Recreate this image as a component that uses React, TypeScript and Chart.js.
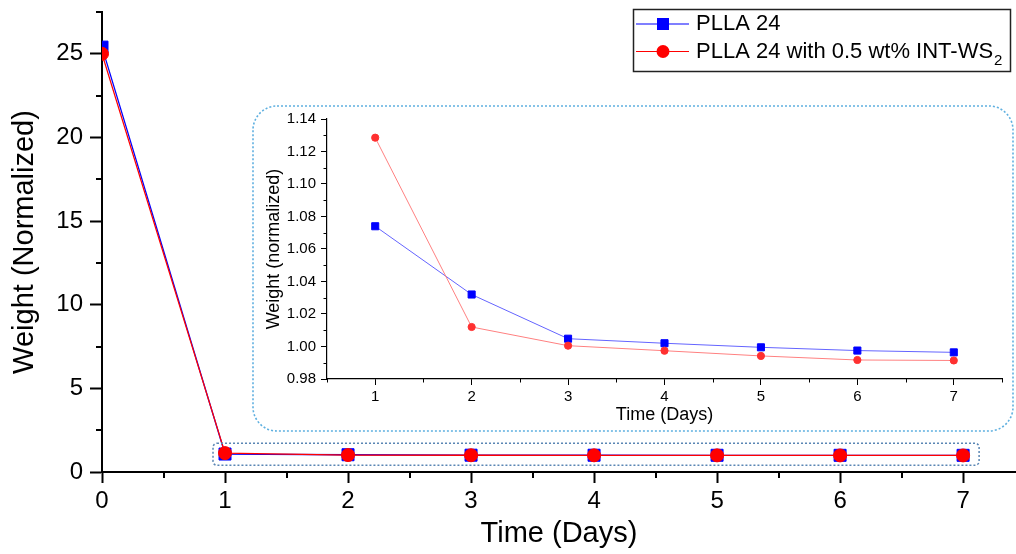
import React, { useEffect, useRef } from 'react';
import { Chart, registerables } from 'chart.js';

Chart.register(...registerables);

// ---------- data ----------
const days = [0, 1, 2, 3, 4, 5, 6, 7];
const plla24 = [25.4, 1.074, 1.032, 1.0048, 1.002, 0.9995, 0.9975, 0.9964];
const pllaWs2 = [25.0, 1.1285, 1.012, 1.0005, 0.9974, 0.9942, 0.9917, 0.9914];
const seriesNames = ['PLLA 24', 'PLLA 24 with 0.5 wt% INT-WS'];
const seriesSubs = ['', '2'];

const mainXTicks = [0, 1, 2, 3, 4, 5, 6, 7];
const mainXMinor = [0.5, 1.5, 2.5, 3.5, 4.5, 5.5, 6.5];
const mainYTicks = [0, 5, 10, 15, 20, 25];
const mainYMinor = [2.5, 7.5, 12.5, 17.5, 22.5, 27.5];

const insetXTicks = [1, 2, 3, 4, 5, 6, 7];
const insetXMinor = [0.5, 1.5, 2.5, 3.5, 4.5, 5.5, 6.5, 7.5];
const insetYTicks = [0.98, 1.0, 1.02, 1.04, 1.06, 1.08, 1.1, 1.12, 1.14];
const insetYMinor = [0.99, 1.01, 1.03, 1.05, 1.07, 1.09, 1.11, 1.13];

const FONT = "'Liberation Sans', Arial, sans-serif";
const BLUE = '#0000ff';
const RED = '#ff0000';

function minorTickPlugin(id: string, xMinor: number[], yMinor: number[], len: number, width: number) {
  return {
    id,
    afterDraw(chart: any) {
      const { ctx, chartArea, scales } = chart;
      const xs = scales.x;
      const ys = scales.y;
      ctx.save();
      ctx.strokeStyle = '#000';
      ctx.lineWidth = width;
      ctx.beginPath();
      xMinor.forEach((v) => {
        const px = Math.round(xs.getPixelForValue(v)) + 0.5 * (width % 2);
        if (px < chartArea.left - 1 || px > chartArea.right + 1) return;
        ctx.moveTo(px, chartArea.bottom);
        ctx.lineTo(px, chartArea.bottom + len);
      });
      yMinor.forEach((v) => {
        const py = Math.round(ys.getPixelForValue(v)) + 0.5 * (width % 2);
        if (py < chartArea.top - 1 || py > chartArea.bottom + 1) return;
        ctx.moveTo(chartArea.left - len, py);
        ctx.lineTo(chartArea.left, py);
      });
      ctx.stroke();
      ctx.restore();
    },
  };
}

function roundRectPath(ctx: CanvasRenderingContext2D, x: number, y: number, w: number, h: number, r: number) {
  ctx.beginPath();
  ctx.moveTo(x + r, y);
  ctx.lineTo(x + w - r, y);
  ctx.arcTo(x + w, y, x + w, y + r, r);
  ctx.lineTo(x + w, y + h - r);
  ctx.arcTo(x + w, y + h, x + w - r, y + h, r);
  ctx.lineTo(x + r, y + h);
  ctx.arcTo(x, y + h, x, y + h - r, r);
  ctx.lineTo(x, y + r);
  ctx.arcTo(x, y, x + r, y, r);
  ctx.closePath();
}

const mainDecor = {
  id: 'mainDecor',
  afterDraw(chart: any) {
    const { ctx, scales } = chart;
    const xs = scales.x;
    const ys = scales.y;
    ctx.save();
    // dotted box around the zoomed region
    const bx1 = xs.getPixelForValue(insetXTicks[0]) - 12;
    const bx2 = xs.getPixelForValue(insetXTicks[insetXTicks.length - 1]) + 16;
    const by1 = ys.getPixelForValue(1) - 12;
    const by2 = ys.getPixelForValue(1) + 10;
    ctx.setLineDash([2, 2]);
    ctx.strokeStyle = '#5a86b4';
    ctx.lineWidth = 1.5;
    roundRectPath(ctx, bx1, by1, bx2 - bx1, by2 - by1, 4);
    ctx.stroke();
    ctx.setLineDash([]);

    // legend
    const lx = 633.5;
    const ly = 9.5;
    ctx.strokeStyle = '#222';
    ctx.lineWidth = 1.5;
    ctx.strokeRect(lx, ly, 377, 62);
    const rows = [24, 51.5];
    chart.data.datasets.forEach((ds: any, i: number) => {
      const y = rows[i];
      ctx.strokeStyle = ds.borderColor;
      ctx.lineWidth = 1.2;
      ctx.beginPath();
      ctx.moveTo(636, y);
      ctx.lineTo(689, y);
      ctx.stroke();
      ctx.fillStyle = ds.pointBackgroundColor;
      if (ds.pointStyle === 'rect') {
        ctx.fillRect(657, y - 6, 12, 12);
      } else {
        ctx.beginPath();
        ctx.arc(663, y, 6.5, 0, Math.PI * 2);
        ctx.fill();
      }
      ctx.fillStyle = '#000';
      ctx.font = `22px ${FONT}`;
      ctx.textBaseline = 'middle';
      ctx.textAlign = 'left';
      const name = seriesNames[i];
      ctx.fillText(name, 696, y);
      if (seriesSubs[i]) {
        const w = ctx.measureText(name).width;
        ctx.font = `15px ${FONT}`;
        ctx.textBaseline = 'alphabetic';
        ctx.fillText(seriesSubs[i], 696 + w + 1, y + 13.5);
      }
    });
    ctx.restore();
  },
};

const insetFrame = {
  id: 'insetFrame',
  beforeDraw(chart: any) {
    const { ctx, width, height } = chart;
    ctx.save();
    ctx.setLineDash([2, 2]);
    ctx.strokeStyle = '#5fb0e0';
    ctx.lineWidth = 1.6;
    roundRectPath(ctx, 1, 1, width - 2, height - 2, 24);
    ctx.stroke();
    ctx.restore();
  },
};

export default function App() {
  const mainRef = useRef<HTMLCanvasElement>(null);
  const insetRef = useRef<HTMLCanvasElement>(null);

  useEffect(() => {
    const mainChart = new Chart(mainRef.current as HTMLCanvasElement, {
      type: 'line',
      data: {
        datasets: [
          {
            label: seriesNames[0],
            data: days.map((d, i) => ({ x: d, y: plla24[i] })),
            borderColor: BLUE,
            backgroundColor: BLUE,
            borderWidth: 1.3,
            pointStyle: 'rect',
            pointRadius: 8.5,
            pointBorderWidth: 1,
            pointBackgroundColor: BLUE,
            pointBorderColor: BLUE,
            tension: 0,
            order: 2,
            clip: 0,
          },
          {
            label: seriesNames[1],
            data: days.map((d, i) => ({ x: d, y: pllaWs2[i] })),
            borderColor: RED,
            backgroundColor: RED,
            borderWidth: 1.3,
            pointStyle: 'circle',
            pointRadius: 6.5,
            pointBorderWidth: 1,
            pointBackgroundColor: RED,
            pointBorderColor: RED,
            tension: 0,
            order: 1,
            clip: 0,
          },
        ] as any,
      },
      options: {
        responsive: false,
        animation: false,
        events: [],
        layout: { autoPadding: false, padding: { top: 12, left: 0, right: 0, bottom: 0 } },
        plugins: { legend: { display: false }, tooltip: { enabled: false } },
        scales: {
          x: {
            type: 'linear',
            min: 0,
            max: 7.43,
            afterBuildTicks: (s: any) => {
              s.ticks = mainXTicks.map((v) => ({ value: v }));
            },
            afterFit: (s: any) => {
              s.height = 82;
              s.paddingLeft = 0;
              s.paddingRight = 0;
            },
            grid: { display: true, drawOnChartArea: false, drawTicks: true, tickLength: 11, tickWidth: 2, tickColor: '#000' },
            border: { display: true, color: '#000', width: 2 },
            ticks: { color: '#000', font: { family: FONT, size: 24 }, padding: 4, autoSkip: false, maxRotation: 0, callback: (v: any) => String(v) },
            title: { display: true, text: 'Time (Days)', color: '#000', font: { family: FONT, size: 29 }, padding: { top: 0, bottom: 3 } },
          },
          y: {
            type: 'linear',
            min: 0,
            max: 27.5,
            afterBuildTicks: (s: any) => {
              s.ticks = mainYTicks.map((v) => ({ value: v }));
            },
            afterFit: (s: any) => {
              s.width = 102;
              s.paddingTop = 0;
              s.paddingBottom = 0;
            },
            grid: { display: true, drawOnChartArea: false, drawTicks: true, tickLength: 12, tickWidth: 2, tickColor: '#000' },
            border: { display: true, color: '#000', width: 2 },
            ticks: { color: '#000', font: { family: FONT, size: 24 }, padding: 7, autoSkip: false, callback: (v: any) => String(v) },
            title: { display: true, text: 'Weight (Normalized)', color: '#000', font: { family: FONT, size: 29 }, padding: { top: 8, bottom: 0 } },
          },
        },
      } as any,
      plugins: [minorTickPlugin('mainMinor', mainXMinor, mainYMinor, 6, 2), mainDecor],
    });

    const insetChart = new Chart(insetRef.current as HTMLCanvasElement, {
      type: 'line',
      data: {
        datasets: [
          {
            label: seriesNames[0],
            data: days.slice(1).map((d, i) => ({ x: d, y: plla24[i + 1] })),
            borderColor: '#6464ff',
            borderWidth: 1,
            pointStyle: 'rect',
            pointRadius: 5,
            pointBorderWidth: 1,
            pointBackgroundColor: BLUE,
            pointBorderColor: BLUE,
            tension: 0,
            order: 2,
          },
          {
            label: seriesNames[1],
            data: days.slice(1).map((d, i) => ({ x: d, y: pllaWs2[i + 1] })),
            borderColor: '#ff8080',
            borderWidth: 1,
            pointStyle: 'circle',
            pointRadius: 3.6,
            pointBorderWidth: 1,
            pointBackgroundColor: '#ff3030',
            pointBorderColor: '#ff3030',
            tension: 0,
            order: 1,
          },
        ] as any,
      },
      options: {
        responsive: false,
        animation: false,
        events: [],
        layout: { autoPadding: false, padding: { top: 14, left: 0, right: 12, bottom: 0 } },
        plugins: { legend: { display: false }, tooltip: { enabled: false } },
        scales: {
          x: {
            type: 'linear',
            min: 0.5,
            max: 7.5,
            afterBuildTicks: (s: any) => {
              s.ticks = insetXTicks.map((v) => ({ value: v }));
            },
            afterFit: (s: any) => {
              s.height = 53;
              s.paddingLeft = 0;
              s.paddingRight = 0;
            },
            grid: { display: true, drawOnChartArea: false, drawTicks: true, tickLength: 6, tickWidth: 1, tickColor: '#000' },
            border: { display: true, color: '#000', width: 1.2 },
            ticks: { color: '#000', font: { family: FONT, size: 15 }, padding: 3, autoSkip: false, maxRotation: 0, callback: (v: any) => String(v) },
            title: { display: true, text: 'Time (Days)', color: '#000', font: { family: FONT, size: 18 }, padding: { top: 0, bottom: 6 } },
          },
          y: {
            type: 'linear',
            min: 0.98,
            max: 1.14,
            afterBuildTicks: (s: any) => {
              s.ticks = insetYTicks.map((v) => ({ value: v }));
            },
            afterFit: (s: any) => {
              s.width = 75;
              s.paddingTop = 0;
              s.paddingBottom = 0;
            },
            grid: { display: true, drawOnChartArea: false, drawTicks: true, tickLength: 6, tickWidth: 1, tickColor: '#000' },
            border: { display: true, color: '#000', width: 1.2 },
            ticks: { color: '#000', font: { family: FONT, size: 15 }, padding: 5, autoSkip: false, callback: (v: any) => Number(v).toFixed(2) },
            title: { display: true, text: 'Weight (normalized)', color: '#000', font: { family: FONT, size: 18 }, padding: { top: 11, bottom: 0 } },
          },
        },
      } as any,
      plugins: [insetFrame, minorTickPlugin('insetMinor', insetXMinor, insetYMinor, 3.5, 1)],
    });

    return () => {
      mainChart.destroy();
      insetChart.destroy();
    };
  }, []);

  return (
    <div style={{ position: 'fixed', left: 0, top: 0, width: 1016, height: 554, background: '#fff', overflow: 'hidden' }}>
      <canvas ref={mainRef} width={1016} height={554} style={{ position: 'absolute', left: 0, top: 0, width: 1016, height: 554 }} />
      <canvas ref={insetRef} width={762} height={327} style={{ position: 'absolute', left: 252, top: 105, width: 762, height: 327 }} />
    </div>
  );
}
